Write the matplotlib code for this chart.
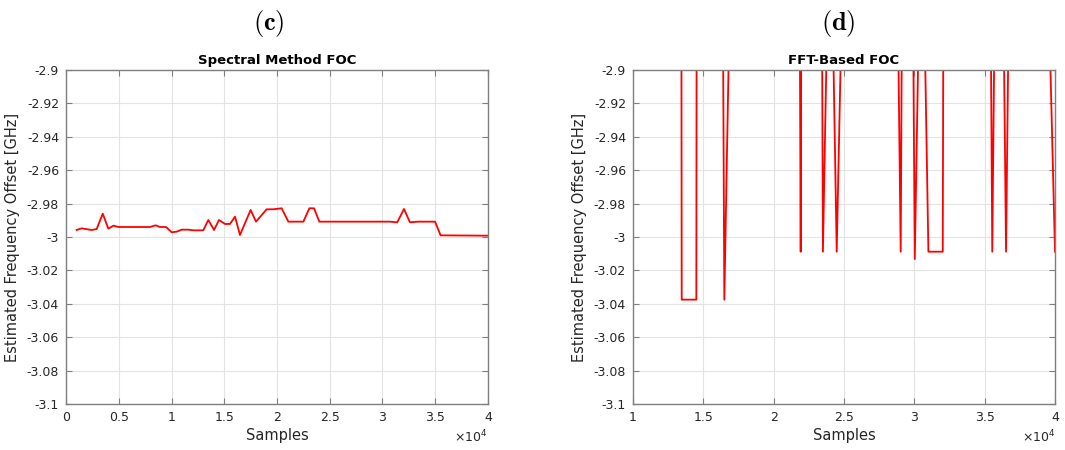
import matplotlib
matplotlib.use("Agg")
import matplotlib.pyplot as plt

plt.rcParams.update({
    "font.family": "DejaVu Sans",
    "axes.unicode_minus": False,
    "mathtext.fontset": "cm",
})

# Spectral method estimate (samples, GHz)
spec_samples = [1000, 1490, 2430, 2910, 3480, 4010, 4490, 4960, 7960, 8500, 8910,
                9480, 10020, 10490, 10970, 11590, 12070, 13010, 13490, 14030, 14500,
                15070, 15540, 16020, 16490, 17500, 18010, 19020, 19650, 20440, 21075,
                22500, 23065, 23510, 24010, 30710, 31400, 32040, 32600, 33400, 34980,
                35510, 40000]
spec_foc = [-2.9958, -2.9948, -2.9958, -2.9952, -2.9860, -2.9950, -2.9932, -2.9940,
            -2.9940, -2.9930, -2.9940, -2.9940, -2.9972, -2.9968, -2.9956, -2.9956,
            -2.9960, -2.9960, -2.9898, -2.9958, -2.9898, -2.9922, -2.9922, -2.9878,
            -2.9988, -2.9838, -2.9908, -2.9834, -2.9834, -2.9828, -2.9908, -2.9908,
            -2.9828, -2.9828, -2.9908, -2.9908, -2.9912, -2.9832, -2.9912, -2.9908,
            -2.9908, -2.9990, -2.9992]

# FFT-based estimate: mostly above -2.9 with occasional drops
fft_samples = [10000, 13440, 13460, 14500, 14520,
               16400, 16490, 16830,
               21860, 21920, 21960,
               23440, 23500, 23780,
               24220, 24480, 24800,
               28850, 29030, 29110,
               29920, 30030, 30300,
               30740, 31000, 32020, 32060,
               35440, 35540, 35690,
               36360, 36520, 36690,
               39620, 40000]
fft_foc = [-2.88, -2.88, -3.0375, -3.0375, -2.88,
           -2.88, -3.0375, -2.88,
           -2.88, -3.0088, -2.88,
           -2.88, -3.0088, -2.88,
           -2.88, -3.0088, -2.88,
           -2.88, -3.0088, -2.88,
           -2.88, -3.0132, -2.88,
           -2.88, -3.0088, -3.0088, -2.88,
           -2.88, -3.0088, -2.88,
           -2.88, -3.0088, -2.88,
           -2.88, -3.0088]

y_ticks = [-2.9, -2.92, -2.94, -2.96, -2.98, -3.0, -3.02, -3.04, -3.06, -3.08, -3.1]
y_tick_labels = ["-2.9", "-2.92", "-2.94", "-2.96", "-2.98", "-3", "-3.02", "-3.04",
                 "-3.06", "-3.08", "-3.1"]

AX_GRAY = "#7f7f7f"
TXT_GRAY = "#262626"

fig = plt.figure(figsize=(10.65, 4.5), dpi=100)


def style_axes(ax, xlim, xticks, xticklabels):
    ax.set_xlim(*xlim)
    ax.set_ylim(-3.1, -2.9)
    ax.set_xticks(xticks)
    ax.set_xticklabels(xticklabels)
    ax.set_yticks(y_ticks)
    ax.set_yticklabels(y_tick_labels)
    ax.grid(True, color="#e3e3e3", linewidth=0.8)
    ax.set_axisbelow(True)
    for sp in ax.spines.values():
        sp.set_color(AX_GRAY)
        sp.set_linewidth(1.0)
    ax.tick_params(direction="in", length=4, width=0.8, color=AX_GRAY,
                   labelcolor=TXT_GRAY, labelsize=9, top=True, right=True, pad=5)
    ax.set_xlabel("Samples", fontsize=10.5, color=TXT_GRAY, labelpad=3)
    ax.set_ylabel("Estimated Frequency Offset [GHz]", fontsize=10.5, color=TXT_GRAY, labelpad=5)
    # exponent marker under the right end of the x axis
    ax.text(1.0, -0.075, r"$\times$10$^4$", transform=ax.transAxes, ha="right", va="top",
            fontsize=9, color=TXT_GRAY, family="DejaVu Sans",
            math_fontfamily="dejavusans")


ax1 = fig.add_axes([0.062, 0.1022, 0.3962, 0.7422])
ax1.plot(spec_samples, spec_foc, color="red", linewidth=1.3)
style_axes(ax1, (0, 40000), [i * 5000 for i in range(9)],
           ["0", "0.5", "1", "1.5", "2", "2.5", "3", "3.5", "4"])
ax1.set_title("Spectral Method FOC", fontsize=9.5, fontweight="bold", pad=4)

ax2 = fig.add_axes([0.5944, 0.1022, 0.3962, 0.7422])
ax2.plot(fft_samples, fft_foc, color="red", linewidth=1.3)
style_axes(ax2, (10000, 40000), [10000 + i * 5000 for i in range(7)],
           ["1", "1.5", "2", "2.5", "3", "3.5", "4"])
ax2.set_title("FFT-Based FOC", fontsize=9.5, fontweight="bold", pad=4)

fig.text(0.252, 0.947, r"$\mathbf{(c)}$", ha="center", va="center", fontsize=19)
fig.text(0.787, 0.947, r"$\mathbf{(d)}$", ha="center", va="center", fontsize=19)

fig.savefig("out.png", dpi=100)
